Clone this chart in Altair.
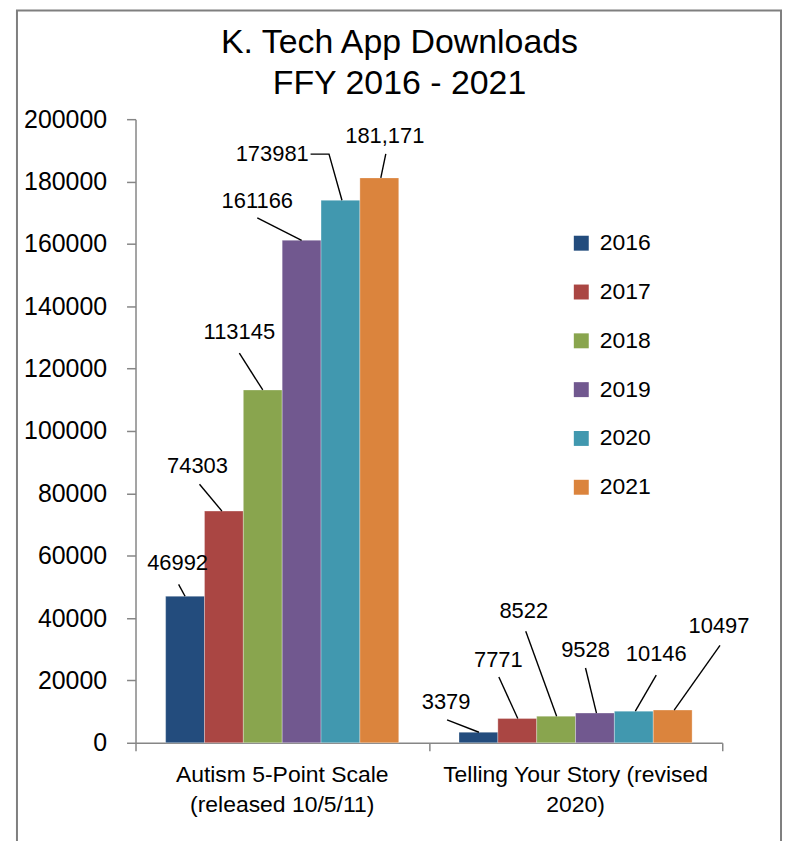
import altair as alt
import pandas as pd

# ---- data ----
title_lines = "K. Tech App Downloads\nFFY 2016 - 2021"
categories = ["Autism 5-Point Scale\n(released 10/5/11)", "Telling Your Story (revised\n2020)"]
years = ["2016", "2017", "2018", "2019", "2020", "2021"]
autism = [46992, 74303, 113145, 161166, 173981, 181171]
story = [3379, 7771, 8522, 9528, 10146, 10497]
autism_labels = ["46992", "74303", "113145", "161166", "173981", "181,171"]
story_labels = ["3379", "7771", "8522", "9528", "10146", "10497"]
y_ticks = list(range(0, 200001, 20000))
colors = ["#234C7D", "#AA4643", "#89A54E", "#71588F", "#4198AF", "#DB843D"]

# ---- layout ----
W, H = 589, 626
YMAX = 200000
PXU = W / 2.0          # pixels per category unit
BW = 39 / PXU          # bar width in category units
FONT = "Liberation Sans, Arial, sans-serif"

# label offsets (px) relative to top centre of each bar
label_off = [
    [(-7.5, -33), (-26.5, -45), (-23.5, -58), (-44.5, -39.5), (-68.5, -46.4), (5.5, -42)],
    [(-32.5, -30.4), (-19, -58.7), (-32.5, -105.3), (-9.5, -63.2), (22.5, -57.2), (46.5, -84)],
]
leader_off = [
    [[(-6.5, -12), (0, 0)], [(-24.5, -27), (-2, 0)], [(-23.5, -37), (0, 0)],
     [(-44.5, -22.5), (0, 0)], [(-30, -46.4), (-11.5, -46.4), (1.5, 0)], [(6.5, -24), (1.5, 0)]],
    [[(-31.5, -12.4), (0.5, 0)], [(-18.5, -41.7), (0.5, 0)], [(-30.5, -85.3), (0.5, 0)],
     [(-9.5, -45.2), (1.5, 0)], [(22.5, -36.2), (1.5, 0)], [(47.5, -65), (1.5, 0)]],
]

series = [autism, story]
labels = [autism_labels, story_labels]

bar_rows, text_rows, lead_rows = [], [], []
for g in range(2):
    for i, yr in enumerate(years):
        v = series[g][i]
        cx = g + 0.5 + (i - 2.5) * BW
        bar_rows.append(dict(cat=categories[g], year=yr, value=v, x0=cx - BW / 2, x1=cx + BW / 2))
        lx, ly = label_off[g][i]
        text_rows.append(dict(x=cx + lx / PXU, y=v - ly * YMAX / H, text=labels[g][i]))
        for k, (px, py) in enumerate(leader_off[g][i]):
            lead_rows.append(dict(id=f"{g}-{i}", k=k, x=cx + px / PXU, y=v - py * YMAX / H))

bars_df = pd.DataFrame(bar_rows)
text_df = pd.DataFrame(text_rows)
lead_df = pd.DataFrame(lead_rows)
cat_df = pd.DataFrame({"cat": categories, "x": [0.5, 1.5]})
title_df = pd.DataFrame({"t": [title_lines]})

xscale = alt.Scale(domain=[0, 2], nice=False, zero=False)
yscale = alt.Scale(domain=[0, YMAX], nice=False)

frame = alt.Chart(pd.DataFrame({"a": [0]})).mark_rect(
    fillOpacity=0, stroke="#7f7f7f", strokeWidth=2
).encode(x=alt.value(-119), x2=alt.value(648), y=alt.value(-109), y2=alt.value(900))

title = alt.Chart(title_df).mark_text(
    font=FONT, fontSize=34, color="black", align="center", baseline="alphabetic",
    lineBreak="\n", lineHeight=41
).encode(x=alt.value(265), y=alt.value(-66), text="t:N")

bars = alt.Chart(bars_df).mark_rect(stroke="white", strokeWidth=0.5, strokeOpacity=0.6).encode(
    x=alt.X("x0:Q", scale=xscale,
            axis=alt.Axis(values=[0, 1, 2], labels=False, title=None, tickSize=8,
                          domainColor="#868686", tickColor="#868686", grid=False,
                          domainWidth=1.5, tickWidth=1.5)),
    x2="x1:Q",
    y=alt.Y("value:Q", scale=yscale,
            axis=alt.Axis(values=y_ticks, format="d", title=None, tickSize=9, labelPadding=20,
                          labelFontSize=25, labelFont=FONT, labelColor="black",
                          domainColor="#868686", tickColor="#868686", grid=False,
                          domainWidth=1.5, tickWidth=1.5)),
    y2=alt.datum(0),
    color=alt.Color("year:N", scale=alt.Scale(domain=years, range=colors),
                    legend=alt.Legend(title=None, orient="none", legendX=436, legendY=113,
                                      symbolType="square", symbolSize=225, symbolStrokeWidth=0,
                                      symbolOpacity=1, labelFontSize=23, labelFont=FONT,
                                      labelColor="black", rowPadding=25, labelOffset=7,
                                      padding=0)),
)

leaders = alt.Chart(lead_df).mark_line(color="black", strokeWidth=1.4).encode(
    x=alt.X("x:Q", scale=xscale), y=alt.Y("y:Q", scale=yscale), detail="id:N", order="k:Q"
)

texts = alt.Chart(text_df).mark_text(font=FONT, fontSize=22, color="black",
                                     align="center", baseline="middle").encode(
    x=alt.X("x:Q", scale=xscale), y=alt.Y("y:Q", scale=yscale), text="text:N"
)

cats = alt.Chart(cat_df).mark_text(font=FONT, fontSize=23, color="black", align="center",
                                   baseline="top", lineBreak="\n", lineHeight=31).encode(
    x=alt.X("x:Q", scale=xscale), y=alt.value(H + 21), text="cat:N"
)

chart = alt.layer(frame, title, bars, leaders, texts, cats).properties(
    width=W, height=H,
    background="white",
    autosize=alt.AutoSizeParams(type="none"),
    padding={"left": 128, "top": 110, "right": 62, "bottom": 97},
).configure_view(strokeWidth=0)

chart.save("out.html", embed_options={"renderer": "svg", "actions": False})
